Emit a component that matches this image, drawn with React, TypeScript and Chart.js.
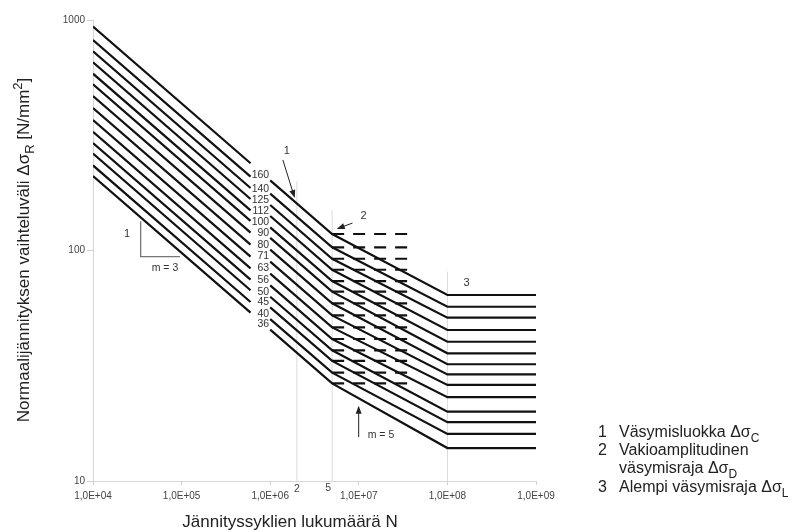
import React, { useEffect, useRef } from "react";
import { Chart, registerables } from "chart.js";

Chart.register(...registerables);

// ---- Data ----
const categories = [160, 140, 125, 112, 100, 90, 80, 71, 63, 56, 50, 45, 40, 36];
// stress range at N = 1e4
const startValues = [935.7, 818.7, 731.0, 655.0, 584.8, 526.3, 467.8, 415.2, 368.4, 327.5, 292.4, 263.2, 233.9, 210.5];
// stress range where the first segment stops (N = 6e5)
const breakValues = [239.0, 209.1, 186.7, 167.3, 149.4, 134.4, 119.5, 106.1, 94.1, 83.7, 74.7, 67.2, 59.8, 53.8];
// stress range where the line resumes (N = 1e6)
const resumeValues = [201.6, 176.4, 157.5, 141.1, 126.0, 113.4, 100.8, 89.5, 79.4, 70.6, 63.0, 56.7, 50.4, 45.4];
// constant amplitude fatigue limit (N = 5e6)
const limitDValues = [117.9, 103.2, 92.1, 82.5, 73.7, 66.3, 59.0, 52.3, 46.4, 41.3, 36.9, 33.2, 29.5, 26.5];
// cut-off limit (N = 1e8 .. 1e9)
const limitLValues = [64.1, 57.0, 51.1, 45.2, 40.2, 35.8, 32.1, 29.0, 26.1, 23.1, 20.0, 18.0, 16.0, 13.9];

const cycleStart = 1e4;
const cycleBreak = 6e5;
const cycleGap = 8e5;
const cycleResume = 1e6;
const cycleD = 5e6;
const cycleDashEnd = 3.75e7;
const cycleL = 1e8;
const cycleEnd = 1e9;

const xTickValues = [1e4, 1e5, 1e6, 1e7, 1e8, 1e9];
const xTickLabels = ["1,0E+04", "1,0E+05", "1,0E+06", "1,0E+07", "1,0E+08", "1,0E+09"];
const yTickValues = [10, 100, 1000];
const yTickLabels = ["10", "100", "1000"];

// light reference verticals: N value and top stress value
const refLineCycles = [2e6, 5e6, 1e8];
const refLineTops = [200, 150, 81];
// small markers under the 2e6 and 5e6 verticals
const refMarkCycles = [2e6, 5e6];
const refMarkLabels = ["2", "5"];

const FONT = "'Liberation Sans', Arial, Helvetica, sans-serif";

type Part = [string, number]; // 0 normal, 1 sub, 2 sup

function drawRich(ctx: CanvasRenderingContext2D, parts: Part[], x: number, y: number, size: number, align: "left" | "center") {
  const fontFor = (m: number) => `${m ? Math.round(size * 0.74) : size}px ${FONT}`;
  const widths = parts.map((p) => {
    ctx.font = fontFor(p[1]);
    return ctx.measureText(p[0]).width;
  });
  const total = widths.reduce((a, b) => a + b, 0);
  let cx = align === "center" ? x - total / 2 : x;
  ctx.textAlign = "left";
  ctx.textBaseline = "alphabetic";
  parts.forEach((p, i) => {
    ctx.font = fontFor(p[1]);
    const dy = p[1] === 1 ? size * 0.3 : p[1] === 2 ? -size * 0.42 : 0;
    ctx.fillText(p[0], cx, y + dy);
    cx += widths[i];
  });
}

function arrow(ctx: CanvasRenderingContext2D, x1: number, y1: number, x2: number, y2: number) {
  const ang = Math.atan2(y2 - y1, x2 - x1);
  const hl = 8;
  const hw = 3;
  ctx.beginPath();
  ctx.moveTo(x1, y1);
  ctx.lineTo(x2 - Math.cos(ang) * hl * 0.8, y2 - Math.sin(ang) * hl * 0.8);
  ctx.stroke();
  ctx.beginPath();
  ctx.moveTo(x2, y2);
  ctx.lineTo(x2 - Math.cos(ang) * hl - Math.sin(ang) * hw, y2 - Math.sin(ang) * hl + Math.cos(ang) * hw);
  ctx.lineTo(x2 - Math.cos(ang) * hl + Math.sin(ang) * hw, y2 - Math.sin(ang) * hl - Math.cos(ang) * hw);
  ctx.closePath();
  ctx.fill();
}

const annotationPlugin = {
  id: "snAnnotations",
  afterDatasetsDraw(chart: any) {
    const ctx: CanvasRenderingContext2D = chart.ctx;
    const xs = chart.scales.x;
    const ys = chart.scales.y;
    const px = (v: number) => xs.getPixelForValue(v);
    const py = (v: number) => ys.getPixelForValue(v);
    ctx.save();

    // category labels
    ctx.fillStyle = "#333";
    ctx.font = `10.5px ${FONT}`;
    ctx.textAlign = "right";
    ctx.textBaseline = "middle";
    categories.forEach((c, i) => {
      ctx.fillText(String(c), px(cycleResume) - 1, py(resumeValues[i]) - 5);
    });

    // "2" and "5" markers below the axis
    ctx.fillStyle = "#444";
    ctx.font = `10.5px ${FONT}`;
    ctx.textAlign = "center";
    ctx.textBaseline = "middle";
    refMarkCycles.forEach((n, i) => {
      const dx = i === 0 ? 0 : -4;
      ctx.fillText(refMarkLabels[i], px(n) + dx, chart.chartArea.bottom + 8 - i);
    });

    // numbered annotations
    ctx.fillStyle = "#333";
    ctx.font = `11px ${FONT}`;
    ctx.textAlign = "center";
    ctx.fillText("1", px(1.54e6), py(270));
    ctx.fillText("2", px(1.135e7), py(141));
    ctx.fillText("3", px(1.64e8), py(72.3));
    ctx.fillText("1", px(2.42e4), py(118));
    ctx.font = `10.5px ${FONT}`;
    ctx.fillText("m = 3", px(6.49e4), py(83.9));
    ctx.textAlign = "left";
    ctx.fillText("m = 5", px(1.26e7), py(15.8));

    // arrows
    ctx.strokeStyle = "#222";
    ctx.fillStyle = "#222";
    ctx.lineWidth = 1;
    arrow(ctx, px(1.39e6), py(247), px(1.89e6), py(169));
    arrow(ctx, px(8.5e6), py(131.6), px(5.64e6), py(124));
    arrow(ctx, px(9.97e6), py(15.5), px(9.97e6), py(21.2));

    // axis titles
    ctx.fillStyle = "#222";
    drawRich(ctx, [["Jännityssyklien lukumäärä N", 0]], 290, 527, 17, "center");
    ctx.save();
    ctx.translate(29, 250);
    ctx.rotate(-Math.PI / 2);
    drawRich(
      ctx,
      [
        ["Normaalijännityksen vaihteluväli Δσ", 0],
        ["R", 1],
        [" [N/mm", 0],
        ["2", 2],
        ["]", 0],
      ],
      0,
      0,
      17,
      "center"
    );
    ctx.restore();

    // legend notes
    const lx = 598;
    const tx = 619;
    const fs = 16;
    ctx.font = `${fs}px ${FONT}`;
    ctx.textAlign = "left";
    ctx.textBaseline = "alphabetic";
    ctx.fillText("1", lx, 437);
    drawRich(ctx, [["Väsymisluokka Δσ", 0], ["C", 1]], tx, 437, fs, "left");
    ctx.font = `${fs}px ${FONT}`;
    ctx.fillText("2", lx, 455);
    drawRich(ctx, [["Vakioamplitudinen", 0]], tx, 455, fs, "left");
    drawRich(ctx, [["väsymisraja Δσ", 0], ["D", 1]], tx, 473, fs, "left");
    ctx.font = `${fs}px ${FONT}`;
    ctx.fillText("3", lx, 492);
    drawRich(ctx, [["Alempi väsymisraja Δσ", 0], ["L", 1]], tx, 492, fs, "left");

    ctx.restore();
  },
};

export default function App() {
  const ref = useRef<HTMLCanvasElement | null>(null);

  useEffect(() => {
    if (!ref.current) return;
    const datasets: any[] = [];

    categories.forEach((c, i) => {
      datasets.push({
        label: `FAT ${c}`,
        data: [
          { x: cycleStart, y: startValues[i] },
          { x: cycleBreak, y: breakValues[i] },
          { x: cycleGap, y: null },
          { x: cycleResume, y: resumeValues[i] },
          { x: cycleD, y: limitDValues[i] },
          { x: cycleL, y: limitLValues[i] },
          { x: cycleEnd, y: limitLValues[i] },
        ],
        borderColor: "#111",
        borderWidth: 2.2,
        pointRadius: 0,
        spanGaps: false,
        tension: 0,
        order: 1,
      });
      datasets.push({
        label: `D ${c}`,
        data: [
          { x: cycleD, y: limitDValues[i] },
          { x: cycleDashEnd, y: limitDValues[i] },
        ],
        borderColor: "#111",
        borderWidth: 2.2,
        borderDash: [12, 9],
        pointRadius: 0,
        order: 1,
      });
    });

    refLineCycles.forEach((n, i) => {
      datasets.push({
        label: `ref ${n}`,
        data: [
          { x: n, y: 10 },
          { x: n, y: refLineTops[i] },
        ],
        borderColor: "#dadada",
        borderWidth: 1,
        pointRadius: 0,
        order: 10,
      });
    });

    // slope triangle (m = 3)
    datasets.push({
      label: "slope",
      data: [
        { x: 3.45e4, y: 134 },
        { x: 3.45e4, y: 94 },
        { x: 9.6e4, y: 94 },
      ],
      borderColor: "#777",
      borderWidth: 1.3,
      pointRadius: 0,
      order: 5,
    });

    const chart = new Chart(ref.current, {
      type: "line",
      data: { datasets },
      options: {
        responsive: false,
        animation: false,
        layout: { padding: { left: 0, right: 262, top: 20, bottom: 0 } },
        plugins: { legend: { display: false }, tooltip: { enabled: false } },
        scales: {
          x: {
            type: "logarithmic",
            min: 1e4,
            max: 1e9,
            afterBuildTicks: (s: any) => {
              s.ticks = xTickValues.map((v) => ({ value: v }));
            },
            afterFit: (s: any) => {
              s.height = 51;
            },
            ticks: {
              autoSkip: false,
              maxRotation: 0,
              padding: 5,
              color: "#444",
              font: { family: FONT, size: 10 },
              callback: (_v: any, i: number) => xTickLabels[i],
            },
            grid: { drawOnChartArea: false, color: "#d0d0d0", tickLength: 4 },
            border: { color: "#d6d6d6", width: 1 },
          },
          y: {
            type: "logarithmic",
            min: 10,
            max: 1000,
            afterBuildTicks: (s: any) => {
              s.ticks = yTickValues.map((v) => ({ value: v }));
            },
            afterFit: (s: any) => {
              s.width = 93;
            },
            ticks: {
              autoSkip: false,
              padding: 2,
              color: "#444",
              font: { family: FONT, size: 10 },
              callback: (_v: any, i: number) => yTickLabels[i],
            },
            grid: { drawOnChartArea: false, color: "#d0d0d0", tickLength: 6 },
            border: { color: "#d6d6d6", width: 1 },
          },
        },
      },
      plugins: [annotationPlugin],
    });
    return () => chart.destroy();
  }, []);

  return (
    <div style={{ position: "absolute", left: 0, top: 0, width: 798, height: 532, background: "#fff" }}>
      <canvas ref={ref} width={798} height={532} style={{ width: 798, height: 532, display: "block" }} />
    </div>
  );
}
